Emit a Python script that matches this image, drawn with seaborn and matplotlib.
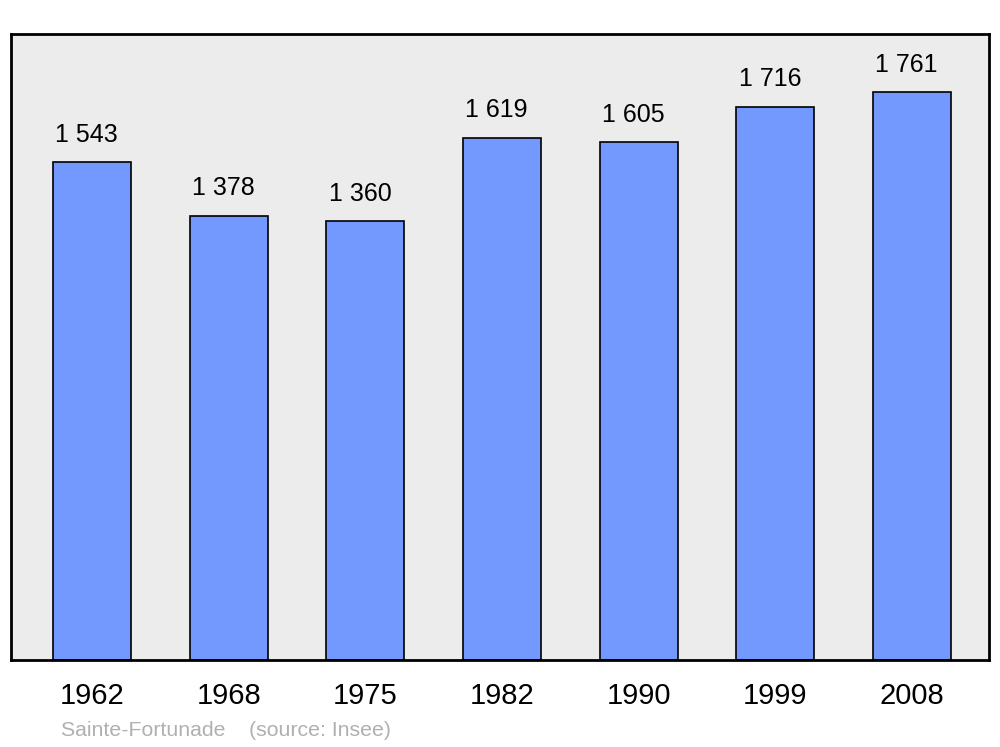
import matplotlib
matplotlib.use("Agg")
import matplotlib.pyplot as plt
import seaborn as sns
import pandas as pd

years = ["1962", "1968", "1975", "1982", "1990", "1999", "2008"]
population = [1543, 1378, 1360, 1619, 1605, 1716, 1761]
commune = "Sainte-Fortunade"
source = "(source: Insee)"

sns.set_style("white")
plt.rcParams["font.family"] = ["Liberation Sans", "DejaVu Sans"]
plt.rcParams["text.color"] = "black"
plt.rcParams["xtick.color"] = "black"

df = pd.DataFrame({"year": years, "pop": population})

fig = plt.figure(figsize=(10, 7.47), dpi=100)
ax = fig.add_axes([0.011, 1 - 660 / 747, 0.978, (660 - 34) / 747])
ax.set_facecolor("#ececec")

sns.barplot(data=df, x="year", y="pop", color="#7399ff", saturation=1,
            width=0.57, edgecolor="black", linewidth=1.2, ax=ax)

for i, v in enumerate(population):
    label = f"{v:,}".replace(",", " ")
    ax.text(i - 0.04, v + 85, label, ha="center", va="center", fontsize=18)

ax.set_xlim(-0.593, 6.563)
ax.set_ylim(0, 1941)
ax.set_yticks([])
ax.set_xlabel("")
ax.set_ylabel("")
ax.tick_params(axis="x", length=0, labelsize=21, pad=16, labelcolor="black")
for lbl in ax.get_xticklabels():
    lbl.set_x(lbl.get_position()[0])
for s in ax.spines.values():
    s.set_visible(True)
    s.set_color("black")
    s.set_linewidth(2)

fig.text(0.061, 1 - 730 / 747, commune + "    " + source, color="#b0b0b0",
         fontsize=15.3, va="center", ha="left")

fig.savefig("out.png", dpi=100)
